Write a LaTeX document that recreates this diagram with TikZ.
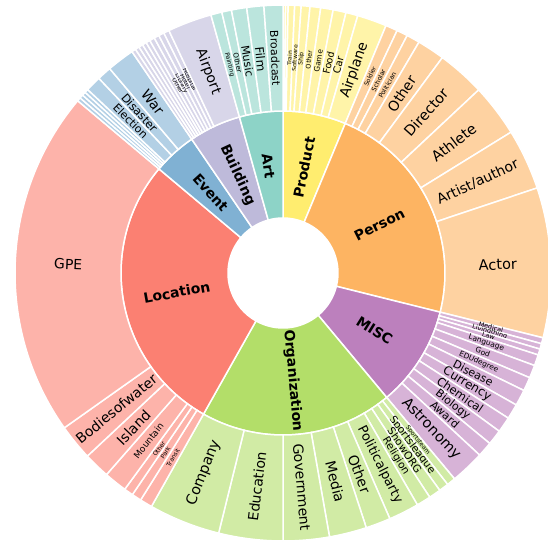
\documentclass[tikz,border=0pt]{standalone}
\usepackage{fontspec}
\setmainfont{DejaVu Sans}
\usepackage{tikz}
\usepackage{xcolor}

\definecolor{prodc}{HTML}{FFED6F}
\definecolor{persc}{HTML}{FDB462}
\definecolor{miscc}{HTML}{BC80BD}
\definecolor{orgc}{HTML}{B3DE69}
\definecolor{locc}{HTML}{FB8072}
\definecolor{evtc}{HTML}{80B1D3}
\definecolor{bldc}{HTML}{BEBADA}
\definecolor{artc}{HTML}{8DD3C7}
\colorlet{prodl}{prodc!60!white}
\colorlet{persl}{persc!60!white}
\colorlet{miscl}{miscc!60!white}
\colorlet{orgl}{orgc!60!white}
\colorlet{locl}{locc!60!white}
\colorlet{evtl}{evtc!60!white}
\colorlet{bldl}{bldc!60!white}
\colorlet{artl}{artc!60!white}

% start angle, end angle, inner radius, outer radius, colour
\newcommand{\ringpart}[5]{%
  \filldraw[fill=#5, draw=white, line width=1.5pt]
    (#1:#3pt) arc[start angle=#1, end angle=#2, radius=#3pt]
    -- (#2:#4pt) arc[start angle=#2, end angle=#1, radius=#4pt] -- cycle;}
% name, start angle, end angle, radius, font size, text
\newcommand{\ringlabel}[6]{%
  \pgfmathsetmacro{\midang}{(#2+#3)/2}%
  \pgfmathsetmacro{\txtrot}{cos(\midang)<0 ? \midang+180 : \midang}%
  \node[rotate=\txtrot, inner sep=0pt, font=\fontsize{#5}{#5}\selectfont] (#1) at (\midang:#4pt) {#6};}
% outer ring: name, start, end, colour, font size, text
\newcommand{\leaf}[6]{\ringpart{#2}{#3}{162}{268}{#4}\ringlabel{#1}{#2}{#3}{215}{#5}{#6}}

\begin{document}
\begin{tikzpicture}
    \useasboundingbox (-283pt,-272pt) rectangle (265pt,273pt);
    % inner ring
    \ringpart{67.4}{90}{55}{162}{prodc}
    \ringpart{-14}{67.4}{55}{162}{persc}
    \ringpart{-50.2}{-14}{55}{162}{miscc}
    \ringpart{-119.4}{-50.2}{55}{162}{orgc}
    \ringpart{140}{240.6}{55}{162}{locc}
    \ringpart{124.3}{140}{55}{162}{evtc}
    \ringpart{105.6}{124.3}{55}{162}{bldc}
    \ringpart{90}{105.6}{55}{162}{artc}
    \ringlabel{product}{67.4}{90}{108}{14}{\bfseries Product}
    \ringlabel{person}{-14}{67.4}{108}{14}{\bfseries Person}
    \ringlabel{misc}{-50.2}{-14}{108}{14}{\bfseries MISC}
    \ringlabel{organization}{-119.4}{-50.2}{108}{14}{\bfseries Organization}
    \ringlabel{location}{140}{240.6}{108}{14}{\bfseries Location}
    \ringlabel{event}{124.3}{140}{108}{14}{\bfseries Event}
    \ringlabel{building}{105.6}{124.3}{108}{14}{\bfseries Building}
    \ringlabel{art}{90}{105.6}{108}{14}{\bfseries Art}
    % product
    \ringpart{89.45}{90}{162}{268}{prodl}
    \ringpart{88.9}{89.45}{162}{268}{prodl}
    \leaf{train}{87.5}{88.9}{prodl}{6}{Train}
    \leaf{software}{86.1}{87.5}{prodl}{6}{Software}
    \leaf{ship}{84.2}{86.1}{prodl}{6}{Ship}
    \leaf{prodother}{81.9}{84.2}{prodl}{6.5}{Other}
    \leaf{game}{79.2}{81.9}{prodl}{7.5}{Game}
    \leaf{food}{76.4}{79.2}{prodl}{9.5}{Food}
    \leaf{car}{73.8}{76.4}{prodl}{10}{Car}
    \leaf{airplane}{67.4}{73.8}{prodl}{14}{Airplane}
    % person
    \leaf{soldier}{64.8}{67.4}{persl}{6}{Soldier}
    \leaf{scholar}{62.4}{64.8}{persl}{6.5}{Scholar}
    \leaf{politician}{59.5}{62.4}{persl}{6.5}{Politician}
    \leaf{persother}{53.5}{59.5}{persl}{14}{Other}
    \leaf{director}{43.1}{53.5}{persl}{14.5}{Director}
    \leaf{athlete}{31.7}{43.1}{persl}{14.5}{Athlete}
    \leaf{artist}{18.5}{31.7}{persl}{14}{Artist/author}
    \leaf{actor}{-14}{18.5}{persl}{14.5}{Actor}
    % misc
    \leaf{medical}{-15.3}{-14}{miscl}{6.5}{Medical}
    \leaf{livingthing}{-16.5}{-15.3}{miscl}{6.5}{Livingthing}
    \leaf{law}{-17.8}{-16.5}{miscl}{6.5}{Law}
    \leaf{language}{-20.2}{-17.8}{miscl}{7.5}{Language}
    \leaf{god}{-23}{-20.2}{miscl}{7.5}{God}
    \leaf{edudegree}{-26}{-23}{miscl}{7.5}{EDUdegree}
    \leaf{disease}{-29.5}{-26}{miscl}{11}{Disease}
    \leaf{currency}{-32.8}{-29.5}{miscl}{12}{Currency}
    \leaf{chemical}{-36.2}{-32.8}{miscl}{11.5}{Chemical}
    \leaf{biology}{-39.5}{-36.2}{miscl}{11}{Biology}
    \leaf{award}{-42.8}{-39.5}{miscl}{11}{Award}
    \leaf{astronomy}{-50.2}{-42.8}{miscl}{14.5}{Astronomy}
    % organization
    \leaf{sportsteam}{-52.1}{-50.2}{orgl}{6}{Sportsteam}
    \leaf{sportsleague}{-54.2}{-52.1}{orgl}{10.5}{Sportsleague}
    \leaf{showorg}{-56.8}{-54.2}{orgl}{10.5}{ShowORG}
    \leaf{religion}{-59.9}{-56.8}{orgl}{10.5}{Religion}
    \leaf{politicalparty}{-66.5}{-59.9}{orgl}{13}{Politicalparty}
    \leaf{orgother}{-71.9}{-66.5}{orgl}{14}{Other}
    \leaf{media}{-80}{-71.9}{orgl}{14}{Media}
    \leaf{government}{-90}{-80}{orgl}{14}{Government}
    \leaf{education}{-103.9}{-90}{orgl}{14}{Education}
    \leaf{company}{-119.4}{-103.9}{orgl}{14.5}{Company}
    % location
    \leaf{transit}{237.9}{240.6}{locl}{6}{Transit}
    \leaf{park}{235.8}{237.9}{locl}{6}{Park}
    \leaf{locother}{233.8}{235.8}{locl}{6}{Other}
    \leaf{mountain}{228.8}{233.8}{locl}{9}{Mountain}
    \leaf{island}{223.1}{228.8}{locl}{14}{Island}
    \leaf{bodiesofwater}{215.3}{223.1}{locl}{14}{Bodiesofwater}
    \leaf{gpe}{140}{215.3}{locl}{14}{GPE}
    % event
    \ringpart{139.2}{140}{162}{268}{evtl}
    \ringpart{138.4}{139.2}{162}{268}{evtl}
    \ringpart{137.6}{138.4}{162}{268}{evtl}
    \ringpart{136.8}{137.6}{162}{268}{evtl}
    \leaf{election}{133.4}{136.8}{evtl}{11}{Election}
    \leaf{disaster}{130.3}{133.4}{evtl}{11.5}{Disaster}
    \leaf{war}{124.3}{130.3}{evtl}{14}{War}
    % building
    \ringpart{123.4}{124.3}{162}{268}{bldl}
    \ringpart{122.5}{123.4}{162}{268}{bldl}
    \ringpart{121.6}{122.5}{162}{268}{bldl}
    \ringpart{120.7}{121.6}{162}{268}{bldl}
    \ringpart{119.8}{120.7}{162}{268}{bldl}
    \leaf{bldother}{118.7}{119.8}{bldl}{6}{Other}
    \leaf{library}{117.6}{118.7}{bldl}{6}{Library}
    \leaf{hotel}{116.4}{117.6}{bldl}{6}{Hotel}
    \leaf{hospital}{115.2}{116.4}{bldl}{6}{Hospital}
    \leaf{airport}{105.6}{115.2}{bldl}{14}{Airport}
    % art
    \leaf{painting}{103.2}{105.6}{artl}{6}{Painting}
    \leaf{artother}{101.1}{103.2}{artl}{7}{Other}
    \leaf{music}{97.8}{101.1}{artl}{11}{Music}
    \leaf{film}{94.1}{97.8}{artl}{12}{Film}
    \leaf{broadcast}{90}{94.1}{artl}{11}{Broadcast}
\end{tikzpicture}
\end{document}
